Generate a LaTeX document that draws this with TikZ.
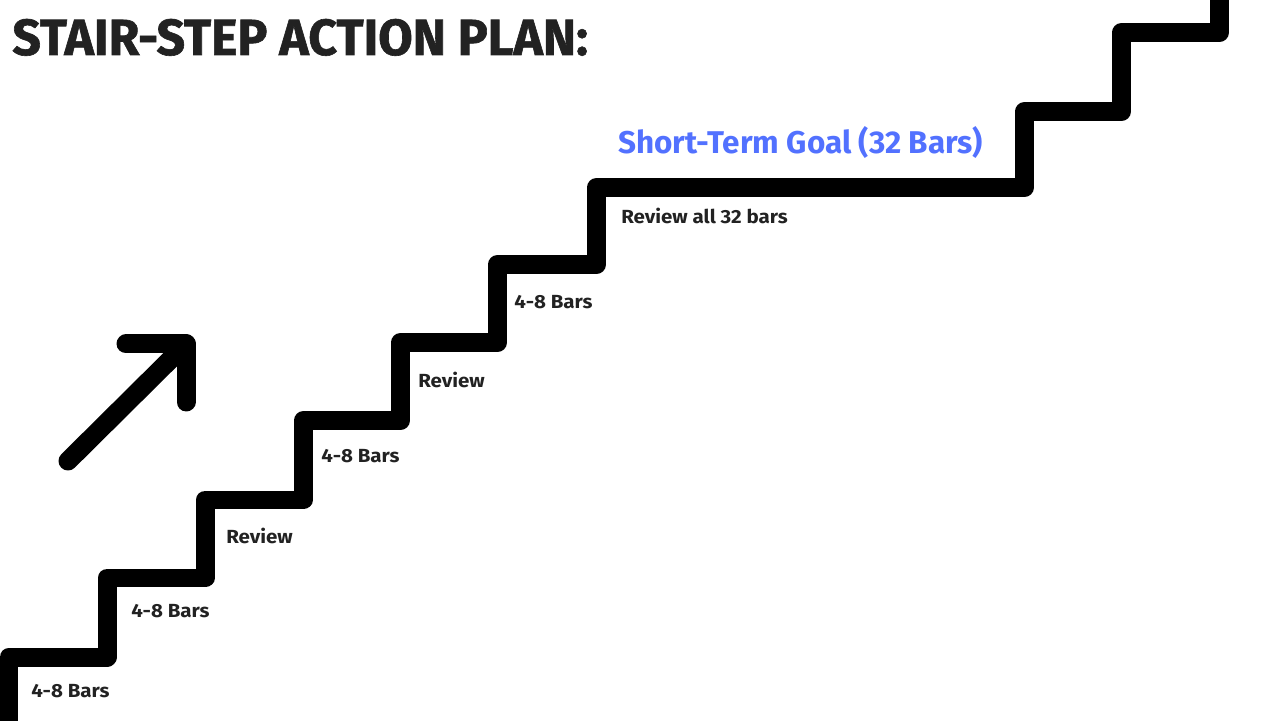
\documentclass[tikz,border=0pt]{standalone}
\usepackage{fontspec}
\setmainfont{Fira Sans}
\newfontfamily\stepfont[FakeStretch=1.08]{Fira Sans}
\newfontfamily\headfont[FakeBold=1.2]{Fira Sans}
\usepackage{graphicx}
\usetikzlibrary{positioning,calc}
\definecolor{inkgray}{HTML}{222222}
\definecolor{goalblue}{HTML}{5271FF}

\begin{document}
\begin{tikzpicture}[
    x=0.02cm, y=0.02cm,
    % Style definitions
    stairline/.style={line width=0.38cm, line join=round, draw=black},
    arrowline/.style={line width=0.38cm, line cap=round, line join=round, draw=black},
    steplbl/.style={anchor=base west, inner sep=0pt, font=\stepfont\bfseries\fontsize{10.8}{12}\selectfont, text=inkgray},
    goallbl/.style={anchor=base west, inner sep=0pt, font=\bfseries\fontsize{17.9}{20}\selectfont, text=goalblue},
    titlelbl/.style={anchor=base west, inner sep=0pt, font=\headfont\bfseries\fontsize{28.9}{32}\selectfont, text=inkgray}
]
\useasboundingbox (0,0) rectangle (1280,720);

% Title
\node[titlelbl] (title) at (12,665) {\scalebox{0.985}[1]{STAIR-STEP ACTION PLAN:}};

% Stair corners
\coordinate (s0) at (9,-20);
\coordinate (s1) at (9,63);
\coordinate (s2) at (107,63);
\coordinate (s3) at (107,142);
\coordinate (s4) at (205,142);
\coordinate (s5) at (205,220);
\coordinate (s6) at (303,220);
\coordinate (s7) at (303,299);
\coordinate (s8) at (400,299);
\coordinate (s9) at (400,377);
\coordinate (s10) at (497,377);
\coordinate (s11) at (497,455);
\coordinate (s12) at (596,455);
\coordinate (s13) at (596,532);
\coordinate (s14) at (1024,532);
\coordinate (s15) at (1024,608);
\coordinate (s16) at (1121,608);
\coordinate (s17) at (1121,687);
\coordinate (s18) at (1219,687);
\coordinate (s19) at (1219,740);

% Stairs
\draw[stairline] (s0) -- (s1) -- (s2) -- (s3) -- (s4) -- (s5) -- (s6) -- (s7) -- (s8) -- (s9)
    -- (s10) -- (s11) -- (s12) -- (s13) -- (s14) -- (s15) -- (s16) -- (s17) -- (s18) -- (s19);

% Step labels
\node[steplbl] (bars1) at (31,23) {4-8 Bars};
\node[steplbl] (bars2) at (131,103) {4-8 Bars};
\node[steplbl] (review1) at (226,176) {Review};
\node[steplbl] (bars3) at (321,257) {4-8 Bars};
\node[steplbl] (review2) at (418,332) {Review};
\node[steplbl] (bars4) at (514,411) {4-8 Bars};
\node[steplbl] (reviewall) at (621,496) {Review all 32 bars};

% Goal
\node[goallbl] (goal) at (618,566) {Short-Term Goal (32 Bars)};

% Upward arrow
\coordinate (tail) at (68,259);
\coordinate (tip) at (186,376);
\coordinate (headl) at (126,376);
\coordinate (headb) at (186,318);
\draw[arrowline] (tail) -- (tip);
\draw[arrowline] (headl) -- (tip) -- (headb);

\end{tikzpicture}
\end{document}
